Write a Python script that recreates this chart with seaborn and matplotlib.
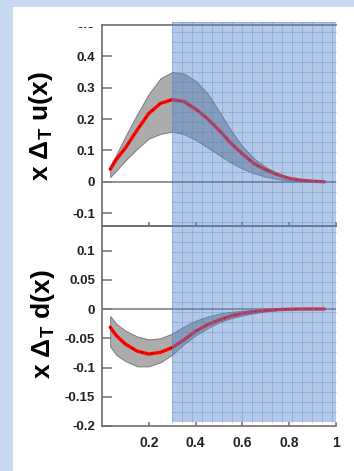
import numpy as np
import pandas as pd
import seaborn as sns
import matplotlib
matplotlib.use("Agg")
import matplotlib.pyplot as plt
from matplotlib.patches import Rectangle
from matplotlib.transforms import blended_transform_factory, Bbox, TransformedBbox

# Transversity distributions: central value and uncertainty band
x_vals = [0.035, 0.06, 0.10, 0.15, 0.20, 0.25, 0.30, 0.35, 0.40, 0.45,
          0.50, 0.55, 0.60, 0.65, 0.70, 0.75, 0.80, 0.85, 0.90, 0.95]

u_mid = [0.040, 0.070, 0.108, 0.165, 0.218, 0.250, 0.262, 0.256, 0.232, 0.202,
         0.165, 0.124, 0.089, 0.058, 0.038, 0.023, 0.011, 0.005, 0.002, 0.000]
u_upper = [0.050, 0.085, 0.145, 0.215, 0.280, 0.330, 0.350, 0.345, 0.322, 0.283,
           0.225, 0.165, 0.113, 0.074, 0.047, 0.027, 0.012, 0.004, 0.001, 0.000]
u_lower = [0.015, 0.035, 0.068, 0.105, 0.138, 0.153, 0.160, 0.152, 0.134, 0.110,
           0.086, 0.062, 0.042, 0.027, 0.016, 0.009, 0.004, 0.001, 0.000, 0.000]

d_mid = [-0.031, -0.045, -0.060, -0.072, -0.077, -0.074, -0.066, -0.053, -0.038, -0.027,
         -0.019, -0.012, -0.0075, -0.0045, -0.0025, -0.001, -0.0005, 0.0, 0.0, 0.0]
d_upper = [-0.012, -0.025, -0.037, -0.047, -0.052, -0.050, -0.042, -0.030, -0.020, -0.013,
           -0.008, -0.005, -0.003, -0.0015, -0.0005, 0.0, 0.0, 0.0, 0.0, 0.0]
d_lower = [-0.064, -0.078, -0.089, -0.098, -0.098, -0.091, -0.078, -0.060, -0.045, -0.033,
           -0.023, -0.016, -0.011, -0.007, -0.004, -0.002, -0.001, 0.0, 0.0, 0.0]

u_yticks = [0.4, 0.3, 0.2, 0.1, 0.0, -0.1]
u_yticklabels = ["0.4", "0.3", "0.2", "0.1", "0", "-0.1"]
d_yticks = [0.1, 0.05, 0.0, -0.05, -0.1, -0.15, -0.2]
d_yticklabels = ["0.1", "0.05", "0", "-0.05", "-0.1", "-0.15", "-0.2"]
xticks = [0.2, 0.4, 0.6, 0.8, 1.0]
xticklabels = ["0.2", "0.4", "0.6", "0.8", "1"]

shade_start = 0.3
shade_end = 1.0

sns.set_theme(style="white")
plt.rcParams["font.family"] = ["Liberation Sans", "DejaVu Sans"]
plt.rcParams["font.weight"] = "bold"
plt.rcParams["mathtext.fontset"] = "custom"
plt.rcParams["mathtext.rm"] = "Liberation Sans:bold"
plt.rcParams["mathtext.bf"] = "Liberation Sans:bold"

W, H = 354, 471
fig = plt.figure(figsize=(W / 100, H / 100), dpi=100)
fig.patch.set_facecolor("#c6d9f1")
fig.patches.append(Rectangle((13 / W, 0), 1, 1 - 7 / H, transform=fig.transFigure,
                             facecolor="white", edgecolor="none", zorder=-10))

left = 102 / W
width = 234 / W
ax_u = fig.add_axes([left, 1 - 225.7 / H, width, 200.7 / H])
ax_d = fig.add_axes([left, 1 - 426 / H, width, 200.3 / H])

df_u = pd.DataFrame({"x": x_vals, "mid": u_mid, "lo": u_lower, "hi": u_upper})
df_d = pd.DataFrame({"x": x_vals, "mid": d_mid, "lo": d_lower, "hi": d_upper})

spine_col = "#6e6e6e"
for ax, df, ylim, yt, ytl in [(ax_u, df_u, (-0.14, 0.5), u_yticks, u_yticklabels),
                              (ax_d, df_d, (-0.2, 0.1424), d_yticks, d_yticklabels)]:
    ax.set_facecolor("none")
    ax.fill_between(df["x"], df["lo"], df["hi"], facecolor="#acacac",
                    edgecolor="#7a7a7a", linewidth=0.7, zorder=2)
    ax.axhline(0, color="#808080", linewidth=1.2, zorder=1)
    sns.lineplot(data=df, x="x", y="mid", ax=ax, color="#ff0000", linewidth=2.4,
                 zorder=3, legend=False)
    sns.lineplot(data=df, x="x", y="mid", ax=ax, color="black", linewidth=0.9,
                 alpha=0.5, zorder=4, legend=False)
    ax.lines[-1].set_dashes([1.2, 7])
    ax.set_xlim(0, 1)
    ax.set_ylim(*ylim)
    ax.set_yticks(yt)
    ax.set_yticklabels(ytl)
    ax.set_xticks(xticks)
    ax.set_xlabel("")
    ax.set_ylabel("")
    ax.tick_params(axis="y", direction="in", length=7.5, width=1.1, color=spine_col,
                   labelsize=9.5, pad=5, left=True, right=False, labelcolor="#222222")
    ax.tick_params(axis="x", direction="in", length=3, width=1.1, color=spine_col,
                   labelsize=10, pad=7, bottom=True, top=False, labelcolor="#222222")
    for lab in ax.get_yticklabels() + ax.get_xticklabels():
        lab.set_fontweight("bold")
    for side in ["left", "bottom", "top"]:
        ax.spines[side].set_visible(True)
        ax.spines[side].set_color(spine_col)
        ax.spines[side].set_linewidth(1.2)
    ax.spines["right"].set_visible(False)

ax_u.set_xticklabels([])
ax_d.set_xticklabels(xticklabels)
for lab in ax_d.get_xticklabels():
    lab.set_fontweight("bold")

# Partially visible top label of the upper panel
t = ax_u.text(-0.03, 0.5, "0.5", transform=blended_transform_factory(ax_u.transAxes, ax_u.transData),
              ha="right", va="center", fontsize=9.5, fontweight="bold", color="#222222",
              clip_on=True)
t.set_clip_box(TransformedBbox(Bbox([[0, 0], [1, 1 - 26.5 / H]]), fig.transFigure))

# Axis titles
fig.text(41 / W, 1 - 126 / H, r"x $\Delta_\mathrm{T}$ u(x)", rotation=90, ha="center",
         va="center", fontsize=19, fontweight="bold", color="black")
fig.text(43 / W, 1 - 324 / H, r"x $\Delta_\mathrm{T}$ d(x)", rotation=90, ha="center",
         va="center", fontsize=19, fontweight="bold", color="black")

# Shaded kinematic region with grid overlay spanning both panels
tr = blended_transform_factory(ax_d.transData, fig.transFigure)
y_top = 1 - 22 / H
y_bot = 1 - 421.7 / H
fig.patches.append(Rectangle((shade_start, y_bot), shade_end - shade_start, y_top - y_bot,
                             transform=tr, facecolor="#5a8acb", alpha=0.46,
                             edgecolor="none", zorder=20))
step_x = 10 / 234
step_y = 10 / H
gx = shade_start
while gx <= shade_end + 1e-9:
    fig.add_artist(plt.Line2D([gx, gx], [y_bot, y_top], transform=tr, color="#4f80c8",
                              alpha=0.32, linewidth=0.75, zorder=21))
    gx += step_x
gy = y_top
while gy >= y_bot - 1e-9:
    fig.add_artist(plt.Line2D([shade_start, shade_end], [gy, gy], transform=tr,
                              color="#4f80c8", alpha=0.32, linewidth=0.75, zorder=21))
    gy -= step_y

fig.savefig("out.png", dpi=100, facecolor=fig.get_facecolor())
